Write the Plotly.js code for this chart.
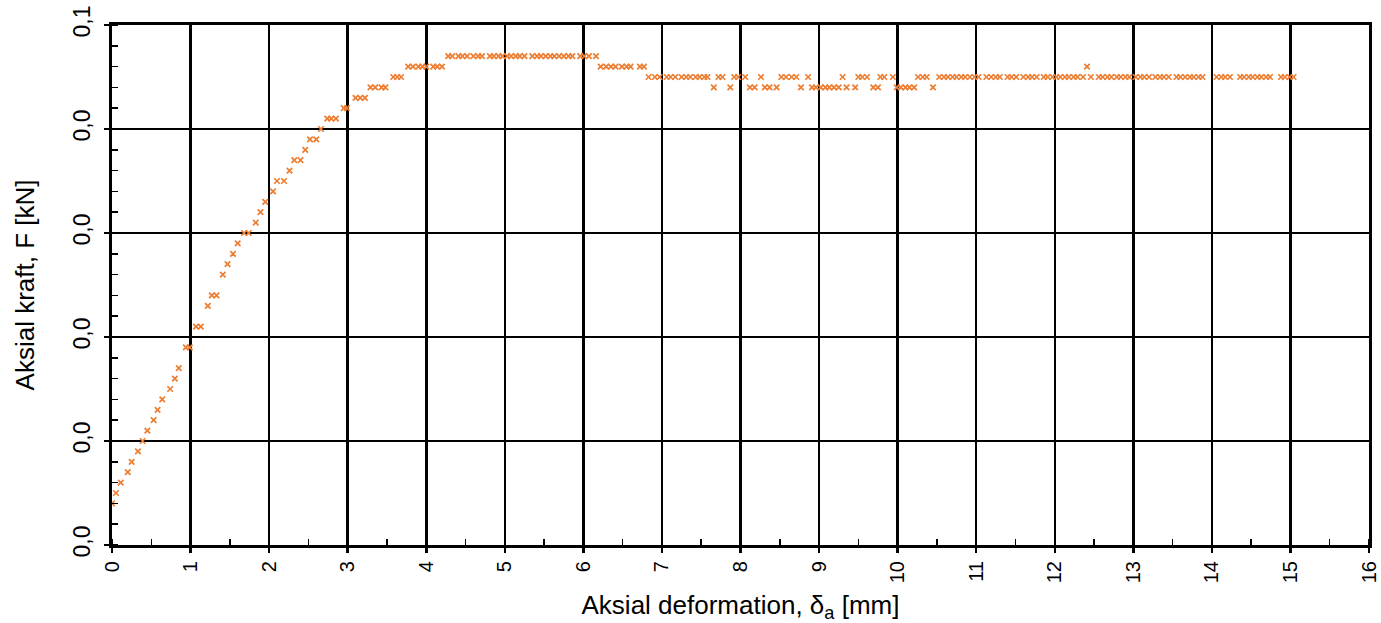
<!DOCTYPE html>
<html>
<head>
<meta charset="utf-8">
<script src="https://cdn.plot.ly/plotly-3.0.1.min.js"></script>
<style>html,body{margin:0;padding:0;background:#fff;}#chart{width:1381px;height:623px;}</style>
</head>
<body>
<div id="chart"></div>
<script>
// Aksial deformation [mm]
const deformation = [
  0.00,0.05,0.11,0.20,0.25,0.33,0.39,0.45,0.53,0.58,0.64,0.74,0.80,0.85,
  0.94,0.99,1.07,1.13,1.22,1.27,1.33,1.41,1.47,1.54,1.60,1.68,1.74,1.83,1.89,1.95,
  2.05,2.10,2.19,2.26,2.32,2.40,2.46,2.52,2.60,2.66,2.74,2.79,2.85,2.95,2.99,
  3.10,3.16,3.22,3.29,3.35,3.43,3.48,3.58,3.63,3.68,3.77,3.83,3.90,3.95,4.00,4.09,4.14,4.20,
  4.28,4.33,4.41,4.46,4.52,4.60,4.66,4.71,4.81,4.86,4.92,4.97,5.03,5.08,5.14,5.19,5.25,
  5.35,5.41,5.46,5.52,5.58,5.63,5.69,5.75,5.81,5.86,5.96,6.01,6.07,6.16,
  6.22,6.29,6.35,6.41,6.49,6.55,6.60,6.72,6.77,
  6.83,6.91,6.97,7.06,7.11,7.17,7.25,7.31,7.36,7.43,7.48,7.54,7.58,
  7.66,7.72,7.77,7.87,7.92,7.97,8.06,8.12,8.18,8.26,8.31,8.37,8.46,
  8.52,8.58,8.65,8.71,8.77,8.86,8.91,8.96,9.02,9.08,9.13,9.19,9.25,9.30,9.35,9.46,
  9.50,9.55,9.61,9.69,9.75,9.78,9.83,9.94,9.99,10.04,10.10,10.15,10.21,10.26,10.32,10.37,10.45,
  10.53,10.59,10.64,10.70,10.75,10.81,10.86,10.92,10.98,11.03,11.13,11.19,11.25,11.30,
  11.40,11.45,11.51,11.60,11.66,11.71,11.77,11.86,11.91,11.97,12.02,12.07,12.13,12.18,12.24,12.29,12.36,
  12.41,12.46,12.56,12.61,12.67,12.72,12.79,12.84,12.90,12.95,13.03,13.09,13.14,13.20,
  13.28,13.34,13.39,13.45,13.55,13.60,13.66,13.72,13.77,13.83,13.88,14.06,14.12,14.17,14.23,
  14.36,14.41,14.47,14.52,14.58,14.63,14.69,14.74,14.88,14.93,14.99,15.04
];
// Aksial kraft [kN]
const force = [
  0.008,0.010,0.012,0.014,0.016,0.018,0.020,0.022,0.024,0.026,0.028,0.030,0.032,0.034,
  0.038,0.038,0.042,0.042,0.046,0.048,0.048,0.052,0.054,0.056,0.058,0.060,0.060,0.062,0.064,0.066,
  0.068,0.070,0.070,0.072,0.074,0.074,0.076,0.078,0.078,0.080,0.082,0.082,0.082,0.084,0.084,
  0.086,0.086,0.086,0.088,0.088,0.088,0.088,0.090,0.090,0.090,0.092,0.092,0.092,0.092,0.092,0.092,0.092,0.092,
  0.094,0.094,0.094,0.094,0.094,0.094,0.094,0.094,0.094,0.094,0.094,0.094,0.094,0.094,0.094,0.094,0.094,
  0.094,0.094,0.094,0.094,0.094,0.094,0.094,0.094,0.094,0.094,0.094,0.094,0.094,0.094,
  0.092,0.092,0.092,0.092,0.092,0.092,0.092,0.092,0.092,
  0.090,0.090,0.090,0.090,0.090,0.090,0.090,0.090,0.090,0.090,0.090,0.090,0.090,
  0.088,0.090,0.090,0.088,0.090,0.090,0.090,0.088,0.088,0.090,0.088,0.088,0.088,
  0.090,0.090,0.090,0.090,0.088,0.090,0.088,0.088,0.088,0.088,0.088,0.088,0.088,0.090,0.088,0.088,
  0.090,0.090,0.090,0.088,0.088,0.090,0.090,0.090,0.088,0.088,0.088,0.088,0.088,0.090,0.090,0.090,0.088,
  0.090,0.090,0.090,0.090,0.090,0.090,0.090,0.090,0.090,0.090,0.090,0.090,0.090,0.090,
  0.090,0.090,0.090,0.090,0.090,0.090,0.090,0.090,0.090,0.090,0.090,0.090,0.090,0.090,0.090,0.090,0.090,
  0.092,0.090,0.090,0.090,0.090,0.090,0.090,0.090,0.090,0.090,0.090,0.090,0.090,0.090,
  0.090,0.090,0.090,0.090,0.090,0.090,0.090,0.090,0.090,0.090,0.090,0.090,0.090,0.090,0.090,
  0.090,0.090,0.090,0.090,0.090,0.090,0.090,0.090,0.090,0.090,0.090,0.090
];
const xTicks = [0,1,2,3,4,5,6,7,8,9,10,11,12,13,14,15,16];
const yTicks = [0,0.02,0.04,0.06,0.08,0.1];
const yTickText = ["0,0","0,0","0,0","0,0","0,0","0,1"];

const trace = {
  x: deformation, y: force, type: 'scatter', mode: 'markers',
  marker: {symbol: 'x-thin-open', size: 5.5, color: '#ED7D31', line: {color: '#ED7D31', width: 1.7}},
  hoverinfo: 'x+y', showlegend: false
};
const font = {family: '"Liberation Sans", Arial, sans-serif', color: '#000'};
const layout = {
  width: 1381, height: 623,
  margin: {l: 112, r: 12, t: 25, b: 78, pad: 0},
  paper_bgcolor: '#fff', plot_bgcolor: '#fff',
  font: Object.assign({size: 21}, font),
  xaxis: {
    range: [0, 16], tickvals: xTicks, ticktext: xTicks.map(String), tickangle: -90,
    ticks: 'outside', ticklen: 5, tickwidth: 2.5, tickcolor: '#000',
    showgrid: true, gridcolor: '#000', gridwidth: 2.5, zeroline: false,
    showline: true, linecolor: '#000', linewidth: 3, mirror: true,
    minor: {ticks: 'inside', dtick: 0.5, tick0: 0, ticklen: 6, tickwidth: 1.5, tickcolor: '#000', showgrid: false},
    tickfont: Object.assign({size: 20}, font),
    title: {text: 'Aksial deformation, δ<sub>a</sub> [mm]', font: Object.assign({size: 26}, font), standoff: 18},
    automargin: false, fixedrange: true
  },
  yaxis: {
    range: [0, 0.1], tickvals: yTicks, ticktext: yTickText, tickangle: -90,
    ticks: 'outside', ticklen: 5, tickwidth: 2.5, tickcolor: '#000',
    showgrid: true, gridcolor: '#000', gridwidth: 2.5, zeroline: false,
    showline: true, linecolor: '#000', linewidth: 3, mirror: true,
    ticklabelstandoff: 5,
    minor: {ticks: 'inside', dtick: 0.004, tick0: 0, ticklen: 6, tickwidth: 1.5, tickcolor: '#000', showgrid: false},
    tickfont: Object.assign({size: 23}, font),
    title: {text: 'Aksial kraft, F [kN]', font: Object.assign({size: 26}, font), standoff: 27},
    automargin: false, fixedrange: true
  }
};
Plotly.newPlot('chart', [trace], layout, {displayModeBar: false, staticPlot: true});
</script>
</body>
</html>
